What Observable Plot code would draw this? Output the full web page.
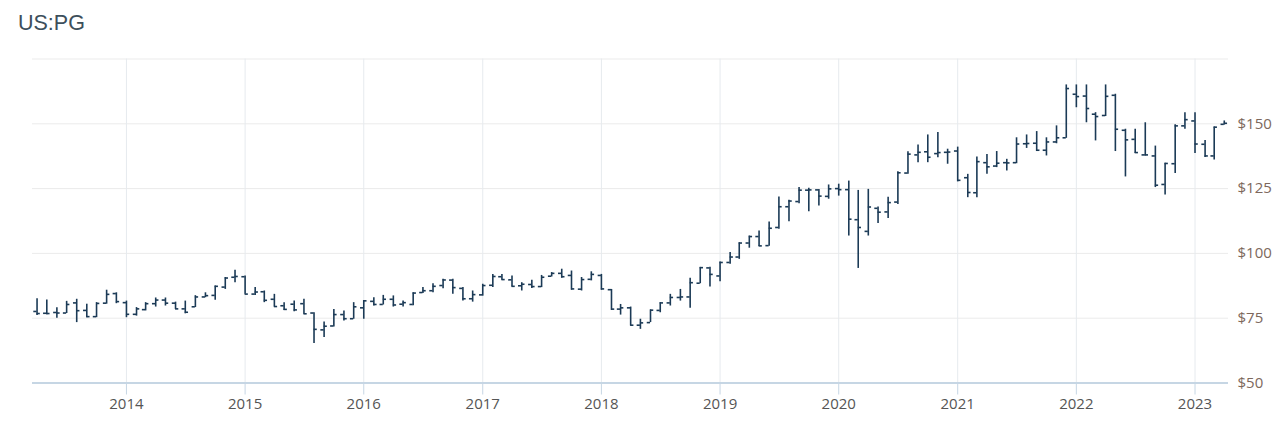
<!DOCTYPE html>
<html>
<head>
<meta charset="utf-8">
<script src="https://cdn.jsdelivr.net/npm/d3@7"></script>
<script src="https://cdn.jsdelivr.net/npm/@observablehq/plot@0.6"></script>
<style>
  html, body { margin: 0; padding: 0; background: #fff; }
  #wrap { position: relative; width: 1286px; height: 437px; }
  #title { position: absolute; left: 18px; top: 12.5px; font-family: "Liberation Sans", Arial, sans-serif; font-size: 21.5px; line-height: 1; color: #3d4f5b; }
  #chart { position: absolute; left: 0; top: 0; }
</style>
</head>
<body>
<div id="wrap">
  <div id="chart"></div>
  <div id="title">US:PG</div>
</div>
<script>
// Monthly OHLC, April 2013 .. April 2023
const firstMonth = "2013-04-01";
const lastMonth = "2023-04-01";

const open = [
  77.6, 76.9, 77.2, 77.0, 80.9, 78.0, 75.6, 80.8, 84.5,
  81.0, 76.5, 78.3, 80.6, 82.0, 80.8, 78.6, 79.4, 83.2, 83.8, 87.0, 90.8,
  91.0, 84.3, 85.2, 82.3, 79.8, 80.4, 80.6, 77.0, 70.5, 72.0, 76.4, 74.8,
  79.0, 81.5, 80.3, 82.3, 80.4, 80.3, 84.9, 85.6, 87.6, 89.7, 86.5, 82.5,
  84.0, 87.7, 91.0, 89.8, 87.5, 88.0, 87.2, 91.2, 92.3, 91.5, 86.2, 90.0,
  91.5, 86.0, 78.5, 79.0, 72.3, 73.3, 78.0, 80.9, 83.0, 83.2, 88.5, 94.4,
  91.3, 96.5, 98.6, 104.0, 106.5, 103.0, 110.0, 118.0, 120.0, 124.4, 124.5, 122.0,
  125.0, 124.6, 113.0, 108.5, 117.4, 116.0, 119.8, 131.0, 138.0, 139.2, 138.5, 139.0,
  139.5, 129.2, 123.4, 135.0, 133.7, 135.0, 135.0, 142.3, 142.5, 139.8, 143.0, 144.6,
  161.4, 160.7, 153.7, 153.2, 161.0, 147.5, 144.0, 138.0, 137.6, 126.6, 134.6, 149.2,
  151.1, 142.1, 137.6, 149.8
];
const high = [
  82.5, 82.0, 79.0, 81.5, 82.3, 80.4, 81.0, 85.8, 84.8,
  81.6, 79.1, 81.0, 82.8, 82.8, 81.2, 81.6, 83.7, 84.8, 87.4, 90.7, 93.5,
  91.3, 86.8, 85.5, 84.2, 81.0, 81.6, 82.3, 77.1, 73.5, 78.4, 77.8, 81.0,
  81.8, 82.9, 83.8, 83.6, 81.6, 84.8, 86.8, 88.3, 90.0, 90.0, 86.8, 85.5,
  88.1, 91.9, 91.9, 91.3, 88.7, 89.6, 91.5, 92.6, 93.9, 93.2, 90.7, 92.9,
  91.9, 86.1, 80.3, 79.3, 74.6, 78.2, 81.0, 84.2, 86.1, 90.4, 94.6, 94.7,
  96.7, 100.3, 104.1, 106.7, 108.6, 112.1, 121.8, 120.5, 125.4, 125.1, 124.7, 126.4,
  126.7, 127.9, 124.3, 124.7, 117.9, 121.7, 131.5, 139.2, 141.8, 145.7, 146.6, 140.2,
  141.0, 130.5, 137.2, 138.2, 139.3, 136.3, 144.6, 145.7, 147.0, 144.6, 149.2, 165.0,
  165.0, 165.0, 154.3, 165.0, 161.4, 147.9, 147.9, 150.4, 141.4, 134.8, 149.6, 154.3,
  154.3, 143.6, 148.8, 151.1
];
const low = [
  76.0, 76.3, 75.0, 76.8, 73.3, 75.2, 75.2, 80.4, 80.6,
  75.2, 75.8, 77.8, 79.3, 79.7, 78.4, 76.7, 79.1, 82.9, 81.9, 86.1, 88.7,
  84.2, 83.8, 81.0, 79.3, 78.0, 77.5, 76.5, 65.2, 67.6, 71.6, 73.9, 74.6,
  74.6, 79.7, 80.1, 79.3, 79.3, 79.8, 84.5, 84.8, 86.4, 84.2, 81.6, 81.2,
  83.5, 86.8, 89.6, 87.0, 85.5, 86.5, 86.8, 90.9, 90.4, 85.8, 85.5, 89.4,
  85.8, 78.0, 76.2, 72.0, 70.7, 73.3, 77.1, 79.7, 81.6, 78.8, 88.3, 87.0,
  89.1, 95.8, 97.7, 102.0, 102.7, 102.8, 109.3, 112.2, 119.2, 116.1, 118.3, 120.9,
  122.1, 106.7, 94.2, 106.7, 111.5, 113.5, 118.9, 130.5, 135.0, 135.0, 136.9, 134.4,
  127.6, 121.5, 121.5, 130.5, 133.1, 131.8, 134.6, 140.5, 139.3, 137.6, 142.3, 144.4,
  156.2, 150.4, 143.4, 152.8, 139.3, 129.5, 138.5, 137.6, 125.4, 122.5, 130.8, 147.9,
  138.5, 137.0, 136.0, 149.5
];
const close = [
  76.8, 76.8, 77.0, 80.3, 77.9, 75.6, 80.7, 84.2, 81.4,
  76.5, 78.6, 80.6, 82.0, 80.8, 78.6, 77.3, 83.2, 83.7, 87.3, 90.5, 91.1,
  84.3, 85.1, 81.9, 79.5, 78.4, 78.2, 76.7, 70.7, 71.9, 76.4, 74.8, 79.4,
  81.7, 80.3, 82.3, 80.1, 81.0, 84.7, 85.6, 87.3, 89.75, 86.8, 82.5, 84.1,
  87.6, 91.1, 89.9, 87.3, 88.1, 87.2, 90.8, 92.3, 91.0, 86.3, 89.9, 91.9,
  86.3, 78.5, 79.0, 72.3, 73.2, 78.1, 80.9, 83.0, 83.2, 88.7, 94.5, 91.9,
  96.5, 98.6, 104.0, 106.5, 102.9, 109.7, 118.0, 120.2, 124.4, 124.5, 122.1, 124.9,
  124.6, 113.2, 110.0, 117.9, 115.9, 119.6, 131.1, 138.3, 139.0, 137.1, 138.9, 139.1,
  128.2, 123.5, 135.4, 133.4, 134.8, 134.9, 142.2, 142.4, 139.8, 143.0, 144.6, 163.6,
  160.5, 155.9, 152.8, 160.6, 147.9, 143.8, 138.9, 138.0, 126.3, 134.7, 149.2, 151.6,
  142.2, 137.6, 148.7, 150.2
];

const yearTicks = ["2014","2015","2016","2017","2018","2019","2020","2021","2022","2023"];
const priceTicks = [50, 75, 100, 125, 150, 175];
const priceLabels = [50, 75, 100, 125, 150];

const months = d3.utcMonth.range(new Date(firstMonth), d3.utcMonth.offset(new Date(lastMonth), 1));
const data = months.map((date, i) => ({date, open: open[i], high: high[i], low: low[i], close: close[i]}));
const years = yearTicks.map(y => new Date(y + "-01-01"));

const barColor = "#1b3a56";
const tickDays = 10;

const chart = Plot.plot({
  width: 1286,
  height: 437,
  marginTop: 58.5,
  marginBottom: 54.5,
  marginLeft: 32,
  marginRight: 58,
  style: {fontFamily: "'Open Sans', sans-serif", fontSize: "15px", background: "transparent", overflow: "visible"},
  x: {type: "utc", domain: [new Date("2013-03-18"), new Date("2023-04-14")]},
  y: {domain: [50, 175]},
  marks: [
    Plot.gridY(priceTicks, {stroke: "#ebebeb", strokeOpacity: 1}),
    Plot.gridX(years, {stroke: "#e6eaee", strokeOpacity: 1}),
    Plot.ruleY([50], {stroke: "#c6d6e4", strokeWidth: 2}),
    Plot.axisX(years, {tickSize: 12, tickPadding: 3, stroke: "#c6d6e4", fill: "#555555", tickFormat: d3.utcFormat("%Y"), label: null}),
    Plot.axisY(priceLabels, {anchor: "right", tickSize: 0, tickPadding: 9, fill: "#7d685c", tickFormat: d => "$" + d, label: null}),
    Plot.ruleX(data, {x: "date", y1: "low", y2: "high", stroke: barColor, strokeWidth: 1.6}),
    Plot.ruleY(data, {y: "open", x1: d => d3.utcDay.offset(d.date, -tickDays), x2: "date", stroke: barColor, strokeWidth: 1.6}),
    Plot.ruleY(data, {y: "close", x1: "date", x2: d => d3.utcDay.offset(d.date, tickDays), stroke: barColor, strokeWidth: 1.6})
  ]
});
document.getElementById("chart").appendChild(chart);
</script>
</body>
</html>
